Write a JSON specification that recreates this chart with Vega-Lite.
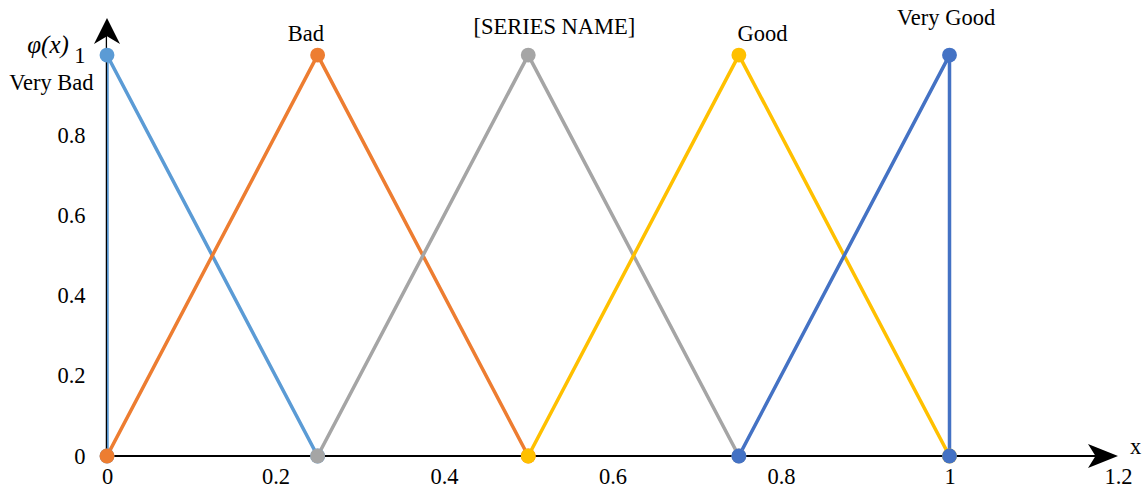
{
  "$schema": "https://vega.github.io/schema/vega-lite/v6.json",
  "width": 1011,
  "height": 441,
  "autosize": {"type": "none"},
  "padding": {"left": 107, "top": 15, "right": 24, "bottom": 37},
  "background": "white",
  "config": {"view": {"stroke": null}, "font": "Liberation Serif"},
  "datasets": {
    "series": [
      {"series": "Very Bad", "order": 1, "x": 0, "y": 0},
      {"series": "Very Bad", "order": 2, "x": 0, "y": 1},
      {"series": "Very Bad", "order": 3, "x": 0.25, "y": 0},
      {"series": "Bad", "order": 1, "x": 0, "y": 0},
      {"series": "Bad", "order": 2, "x": 0.25, "y": 1},
      {"series": "Bad", "order": 3, "x": 0.5, "y": 0},
      {"series": "[SERIES NAME]", "order": 1, "x": 0.25, "y": 0},
      {"series": "[SERIES NAME]", "order": 2, "x": 0.5, "y": 1},
      {"series": "[SERIES NAME]", "order": 3, "x": 0.75, "y": 0},
      {"series": "Good", "order": 1, "x": 0.5, "y": 0},
      {"series": "Good", "order": 2, "x": 0.75, "y": 1},
      {"series": "Good", "order": 3, "x": 1, "y": 0},
      {"series": "Very Good", "order": 1, "x": 0.75, "y": 0},
      {"series": "Very Good", "order": 2, "x": 1, "y": 1},
      {"series": "Very Good", "order": 3, "x": 1, "y": 0}
    ],
    "labels": [
      {"text": "Very Bad", "x": -0.066, "y": 0.93},
      {"text": "Bad", "x": 0.236, "y": 1.052},
      {"text": "[SERIES NAME]", "x": 0.531, "y": 1.07},
      {"text": "Good", "x": 0.778, "y": 1.052},
      {"text": "Very Good", "x": 0.996, "y": 1.092},
      {"text": "x", "x": 1.221, "y": 0.022}
    ]
  },
  "layer": [
    {
      "data": {"name": "series"},
      "mark": {"type": "line", "strokeWidth": 3.5, "clip": true},
      "encoding": {
        "x": {"field": "x", "type": "quantitative", "scale": {"domain": [0, 1.2], "nice": false}, "axis": {"values": [0, 0.2, 0.4, 0.6, 0.8, 1, 1.2], "format": "~g", "title": null, "grid": false, "domain": false, "ticks": false, "labelFont": "Liberation Serif", "labelFontSize": 22.5, "labelColor": "black", "labelPadding": 9, "labelFlush": false, "labelOverlap": false}},
        "y": {"field": "y", "type": "quantitative", "scale": {"domain": [0, 1.1], "nice": false}, "axis": {"values": [0, 0.2, 0.4, 0.6, 0.8, 1], "format": "~g", "title": null, "grid": false, "domain": false, "ticks": false, "labelFont": "Liberation Serif", "labelFontSize": 22.5, "labelColor": "black", "labelPadding": 22, "labelFlush": false, "labelOverlap": false}},
        "detail": {"field": "series"},
        "order": {"field": "order"},
        "color": {"field": "series", "type": "nominal", "scale": {"domain": ["Very Bad", "Bad", "[SERIES NAME]", "Good", "Very Good"], "range": ["#5B9BD5", "#ED7D31", "#A5A5A5", "#FFC000", "#4472C4"]}, "legend": null}
      }
    },
    {
      "data": {"values": [{"x": 0, "y": 0, "x2": 1.18, "y2": 0}]},
      "mark": {"type": "rule", "color": "black", "strokeWidth": 2},
      "encoding": {
        "x": {"field": "x", "type": "quantitative"},
        "x2": {"field": "x2"},
        "y": {"field": "y", "type": "quantitative"}
      }
    },
    {
      "data": {"values": [{"x": 0, "y": 0, "y2": 1.06}]},
      "mark": {"type": "rule", "color": "black", "strokeWidth": 1.3, "xOffset": -0.6},
      "encoding": {
        "x": {"field": "x", "type": "quantitative"},
        "y": {"field": "y", "type": "quantitative"},
        "y2": {"field": "y2"}
      }
    },
    {
      "data": {"values": [{"x": 0, "y": 1.0923}]},
      "mark": {"type": "point", "shape": "M0,0 L1,2 L0,1.4 L-1,2 Z", "filled": true, "color": "black", "opacity": 1, "size": 676},
      "encoding": {
        "x": {"field": "x", "type": "quantitative"},
        "y": {"field": "y", "type": "quantitative"}
      }
    },
    {
      "data": {"values": [{"x": 1.2, "y": 0}]},
      "mark": {"type": "point", "shape": "M0,0 L-2,-0.8 L-1.5,0 L-2,0.8 Z", "filled": true, "color": "black", "opacity": 1, "size": 900},
      "encoding": {
        "x": {"field": "x", "type": "quantitative"},
        "y": {"field": "y", "type": "quantitative"}
      }
    },
    {
      "data": {"name": "series"},
      "mark": {"type": "point", "filled": true, "opacity": 1, "size": 220, "shape": "circle"},
      "encoding": {
        "x": {"field": "x", "type": "quantitative"},
        "y": {"field": "y", "type": "quantitative"},
        "color": {"field": "series", "type": "nominal", "legend": null}
      }
    },
    {
      "data": {"name": "labels"},
      "mark": {"type": "text", "font": "Liberation Serif", "fontSize": 22.5, "color": "black", "align": "center", "baseline": "middle"},
      "encoding": {
        "x": {"field": "x", "type": "quantitative"},
        "y": {"field": "y", "type": "quantitative"},
        "text": {"field": "text"}
      }
    },
    {
      "data": {"values": [{"text": "φ(x)", "x": -0.07, "y": 1.025}]},
      "mark": {"type": "text", "font": "Liberation Serif", "fontStyle": "italic", "fontSize": 25, "color": "black", "align": "center", "baseline": "middle"},
      "encoding": {
        "x": {"field": "x", "type": "quantitative"},
        "y": {"field": "y", "type": "quantitative"},
        "text": {"field": "text"}
      }
    }
  ]
}
